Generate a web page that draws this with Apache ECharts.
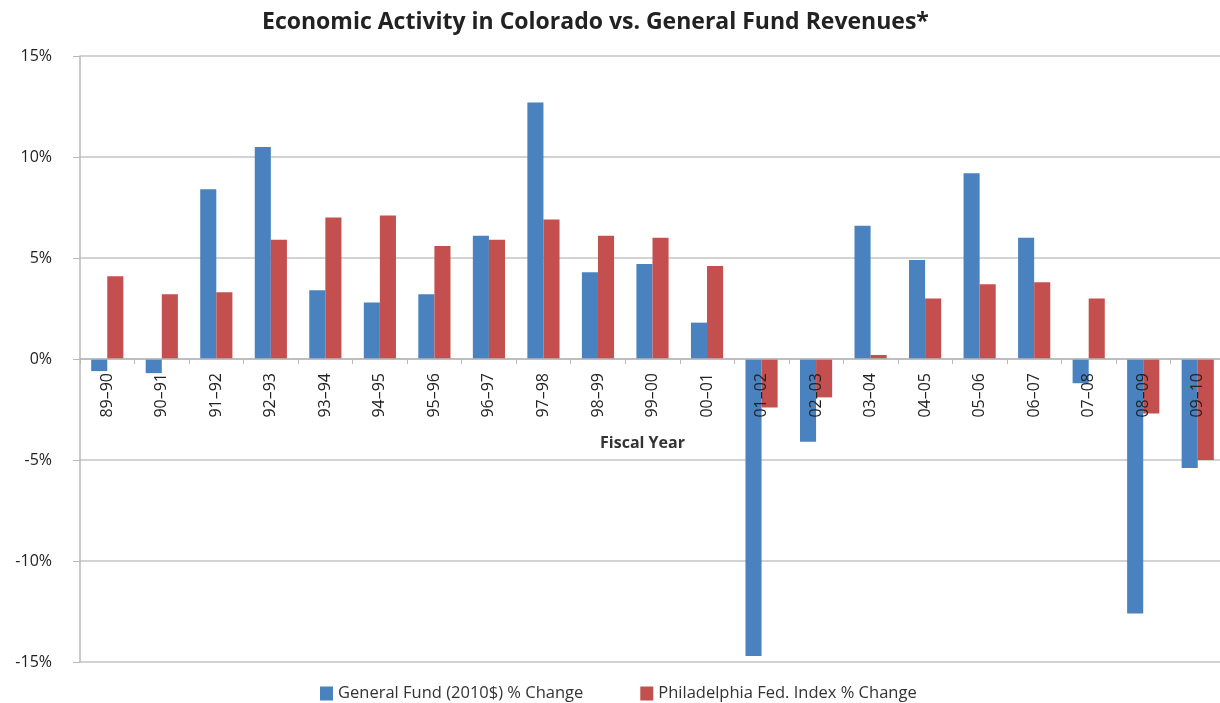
<!DOCTYPE html>
<html>
<head>
    <meta charset="utf-8"/>
    <title>Economic Activity in Colorado</title>
    <script src="https://cdn.jsdelivr.net/npm/echarts@6/dist/echarts.min.js"></script>
    <style>
        html, body { margin: 0; padding: 0; background: #fff; }
        #chart1 { width: 1220px; height: 703px; }
    </style>
</head>
<body>
<div id="chart1"></div>
<script type="text/javascript">
    // fiscal years on the x axis
    var years = ['89–90', '90–91', '91–92', '92–93', '93–94', '94–95', '95–96', '96–97', '97–98', '98–99',
        '99–00', '00–01', '01–02', '02–03', '03–04', '04–05', '05–06', '06–07', '07–08', '08–09', '09–10'];

    // General Fund (2010$) % change
    var generalFund = [-0.6, -0.7, 8.4, 10.5, 3.4, 2.8, 3.2, 6.1, 12.7, 4.3,
        4.7, 1.8, -14.7, -4.1, 6.6, 4.9, 9.2, 6.0, -1.2, -12.6, -5.4];

    // Philadelphia Fed. Index % change
    var phillyFed = [4.1, 3.2, 3.3, 5.9, 7.0, 7.1, 5.6, 5.9, 6.9, 6.1,
        6.0, 4.6, -2.4, -1.9, 0.2, 3.0, 3.7, 3.8, 3.0, -2.7, -5.0];

    var yTicks = [-15, -10, -5, 0, 5, 10, 15];

    var myChart1 = echarts.init(document.getElementById('chart1'));

    // grid: top 56, height 606 -> the 0% line sits at y=359, i.e. 303px above the bottom
    myChart1.setOption({
        animation: false,
        textStyle: { fontFamily: 'Open Sans' },
        title: {
            text: 'Economic Activity in Colorado vs. General Fund Revenues*',
            left: 257,
            top: 6,
            textStyle: { fontSize: 23, fontWeight: 'bold', color: '#222', fontFamily: 'Open Sans' }
        },
        legend: {
            bottom: -4,
            left: 315,
            icon: 'rect',
            itemWidth: 13,
            itemHeight: 14,
            itemGap: 57,
            textStyle: { fontSize: 16.5, color: '#333' },
            data: ['General Fund (2010$) % Change', 'Philadelphia Fed. Index % Change']
        },
        color: ['#4a81bf', '#c3504e'],
        grid: { left: 80, top: 56, width: 1145, height: 606, outerBoundsMode: 'none' },
        xAxis: {
            type: 'category',
            data: years,
            offset: -303,
            z: 10,
            name: 'Fiscal Year',
            nameLocation: 'middle',
            nameGap: 76,
            nameMoveOverlap: false,
            nameTextStyle: { fontSize: 16, fontWeight: 'bold', color: '#333', padding: [0, 20, 0, 0] },
            axisLine: { onZero: false, lineStyle: { color: '#b8b8b8', width: 1.5 } },
            axisTick: { show: true, length: 5, lineStyle: { color: '#b8b8b8' } },
            axisLabel: { rotate: 90, fontSize: 16, color: '#222', margin: 14 }
        },
        yAxis: {
            type: 'value',
            min: yTicks[0],
            max: yTicks[yTicks.length - 1],
            interval: 5,
            axisLine: { show: true, lineStyle: { color: '#b8b8b8', width: 1.5 } },
            axisTick: { show: true, length: 7, lineStyle: { color: '#b8b8b8' } },
            splitLine: { lineStyle: { color: '#c4c4c4', width: 1.5 } },
            axisLabel: { formatter: '{value}%', fontSize: 16, color: '#222', margin: 28 }
        },
        series: [
            {
                name: 'General Fund (2010$) % Change',
                type: 'bar',
                data: generalFund,
                barGap: '0%',
                barCategoryGap: '41%'
            },
            {
                name: 'Philadelphia Fed. Index % Change',
                type: 'bar',
                data: phillyFed,
                barGap: '0%',
                barCategoryGap: '41%'
            }
        ]
    });
</script>
</body>
</html>
